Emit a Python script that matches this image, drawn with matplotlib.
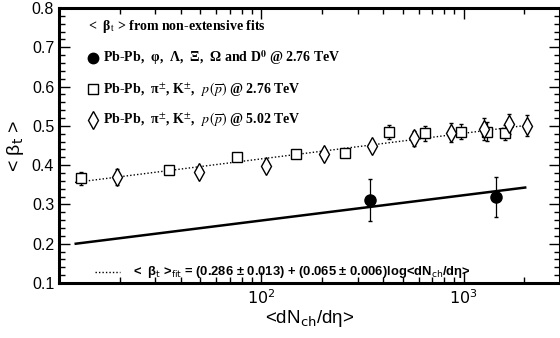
import numpy as np
import matplotlib
matplotlib.use("Agg")
import matplotlib.pyplot as plt
from matplotlib.ticker import FixedLocator, LogLocator, MultipleLocator, NullFormatter

plt.rcParams["font.family"] = ["Liberation Sans", "DejaVu Sans"]

# Pb-Pb pi, K, p @ 2.76 TeV (open squares)
sq_x = [12.8, 34.8, 75.5, 148.5, 260.6, 426.9, 648.0, 975.0, 1310.0, 1608.0]
sq_y = [0.366, 0.388, 0.420, 0.428, 0.430, 0.484, 0.481, 0.485, 0.485, 0.483]
sq_err = [0.016, 0.010, 0.010, 0.010, 0.010, 0.018, 0.019, 0.019, 0.024, 0.020]

# Pb-Pb pi, K, p @ 5.02 TeV (open diamonds)
dm_x = [19.3, 49.3, 105.5, 205.0, 353.0, 568.0, 863.0, 1270.0, 1671.0, 2061.0]
dm_y = [0.369, 0.383, 0.398, 0.428, 0.449, 0.469, 0.483, 0.493, 0.505, 0.500]
dm_err = [0.020, 0.012, 0.010, 0.010, 0.012, 0.019, 0.025, 0.028, 0.026, 0.027]

# Pb-Pb phi, Lambda, Xi, Omega, D0 @ 2.76 TeV (filled circles)
ci_x = [343.5, 1455.0]
ci_y = [0.311, 0.319]
ci_err = [0.053, 0.052]

# fit lines (end points)
fit_x = [12.0, 2100.0]
fit_y = [0.356, 0.502]
heavy_x = [12.1, 2018.0]
heavy_y = [0.200, 0.343]

fig = plt.figure(figsize=(5.6, 3.38), dpi=100)
ax = fig.add_axes([59/560, 55/338, 501/560, 275/338])

ax.plot(fit_x, fit_y, ls=(0, (1, 1.5)), color="black", lw=1.0)
ax.plot(heavy_x, heavy_y, ls="-", color="black", lw=1.8)

ax.errorbar(sq_x, sq_y, yerr=sq_err, fmt="s", ms=6.5, mfc="white", mec="black",
            mew=1.0, ecolor="black", elinewidth=0.9, capsize=1.5, zorder=3)
ax.errorbar(dm_x, dm_y, yerr=dm_err, fmt="d", ms=9, mfc="white", mec="black",
            mew=1.0, ecolor="black", elinewidth=0.9, capsize=1.5, zorder=3)
ax.errorbar(ci_x, ci_y, yerr=ci_err, fmt="o", ms=8, mfc="black", mec="black",
            ecolor="black", elinewidth=0.9, capsize=1.5, zorder=3)

ax.set_xscale("log")
ax.set_xlim(10, 3000)
ax.set_ylim(0.1, 0.8)
ax.xaxis.set_major_locator(FixedLocator([100, 1000]))
ax.set_xticklabels([r"$10^2$", r"$10^3$"])
ax.xaxis.set_minor_locator(LogLocator(base=10, subs=np.arange(2, 10)))
ax.xaxis.set_minor_formatter(NullFormatter())
ax.yaxis.set_major_locator(MultipleLocator(0.1))
ax.yaxis.set_minor_locator(MultipleLocator(0.02))
ax.set_yticklabels(["%.1f" % v for v in ax.get_yticks()])

ax.tick_params(which="both", direction="in", top=True, right=True,
               labelsize=11.5, width=1.0)
ax.tick_params(which="major", length=8)
ax.tick_params(which="minor", length=4)
for s in ax.spines.values():
    s.set_linewidth(2.2)

ax.set_xlabel(r"<dN$_{\rm ch}$/dη>", fontsize=13.5, labelpad=1)
ax.set_ylabel(r"< β$_{\rm t}$ >", fontsize=14, labelpad=4)

serif = dict(family="Liberation Serif", fontweight="bold", fontsize=10,
             math_fontfamily="stix", transform=ax.transAxes, va="center")
ax.text(0.058, 0.931, r"<  β$_{\rm t}$ > from non-extensive fits", **serif)
ax.plot([0.068], [0.818], "o", ms=7.5, color="black", transform=ax.transAxes)
ax.text(0.088, 0.818, r"Pb-Pb,  φ,  Λ,  Ξ,  Ω and D$^\mathbf{0}$ @ 2.76 TeV", **serif)
ax.plot([0.068], [0.705], "s", ms=7, mfc="white", mec="black", transform=ax.transAxes)
ax.text(0.088, 0.705, r"Pb-Pb,  π$^{\pm}$, K$^{\pm}$,  $p\,(\overline{p})$ @ 2.76 TeV", **serif)
ax.plot([0.068], [0.593], "d", ms=9, mfc="white", mec="black", transform=ax.transAxes)
ax.text(0.088, 0.593, r"Pb-Pb,  π$^{\pm}$, K$^{\pm}$,  $p\,(\overline{p})$ @ 5.02 TeV", **serif)

ax.plot([0.072, 0.122], [0.04, 0.04], ls=(0, (1, 1.5)), color="black", lw=1.0,
        transform=ax.transAxes)
ax.text(0.148, 0.04, r"<  β$_{\rm t}$ >$_{\rm fit}$ = (0.286 ± 0.013) + (0.065 ± 0.006)log<dN$_{\rm ch}$/dη>",
        family="Liberation Sans", fontweight="bold", fontsize=9.4, math_fontfamily="dejavusans",
        transform=ax.transAxes, va="center")

fig.savefig("out.png", dpi=100)
